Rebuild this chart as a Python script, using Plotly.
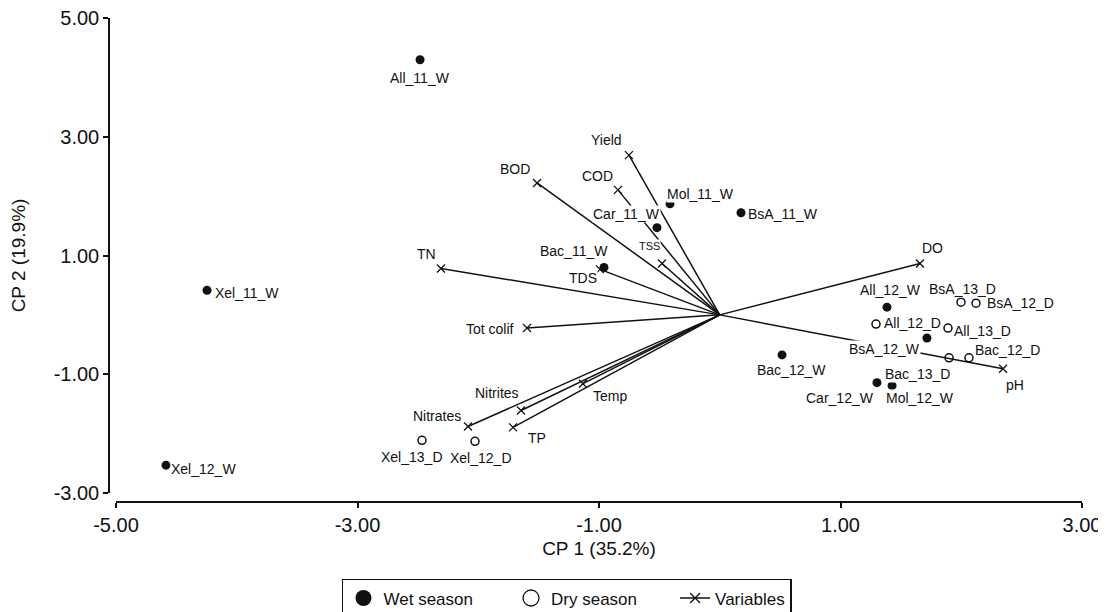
import plotly.graph_objects as go

# ---------------- data ----------------
wet_names = ["All_11_W", "Xel_11_W", "Xel_12_W", "Mol_11_W", "BsA_11_W", "Car_11_W",
             "Bac_11_W", "All_12_W", "BsA_12_W", "Bac_12_W", "Car_12_W", "Mol_12_W"]
wet_x = [-2.482, -4.246, -4.586, -0.412, 0.176, -0.520, -0.959, 1.385, 1.716, 0.516, 1.302, 1.427]
wet_y = [4.297, 0.414, -2.531, 1.870, 1.720, 1.469, 0.799, 0.130, -0.389, -0.674, -1.142, -1.192]

dry_names = ["BsA_13_D", "BsA_12_D", "All_12_D", "All_13_D", "Bac_13_D", "Bac_12_D",
             "Xel_13_D", "Xel_12_D"]
dry_x = [1.998, 2.122, 1.294, 1.890, 1.899, 2.064, -2.466, -2.027]
dry_y = [0.213, 0.197, -0.155, -0.222, -0.724, -0.724, -2.113, -2.130]

var_names = ["Yield", "BOD", "COD", "TSS", "TDS", "TN", "Tot colif", "DO", "pH",
             "Nitrates", "Nitrites", "TP", "Temp"]
var_x = [-0.752, -1.513, -0.843, -0.478, -0.992, -2.309, -1.596, 1.658, 2.346,
         -2.085, -1.646, -1.712, -1.133]
var_y = [2.690, 2.222, 2.105, 0.866, 0.766, 0.782, -0.222, 0.866, -0.908,
         -1.879, -1.611, -1.895, -1.159]

x_ticks = [-5, -3, -1, 1, 3]
y_ticks = [-3, -1, 1, 3, 5]
x_tick_labels = ["-5.00", "-3.00", "-1.00", "1.00", "3.00"]
y_tick_labels = ["-3.00", "-1.00", "1.00", "3.00", "5.00"]
x_title = "CP 1 (35.2%)"
y_title = "CP 2 (19.9%)"
legend_names = ["Wet season", "Dry season", "Variables"]

# ---------------- label styling (pixel offsets of label centre from the mark) ----------------
wet_off = [(0, 18), (40, 3), (38, 4), (30, -10), (42, 1), (-30, -14), (-30, -16),
           (4, -17), (-42, 11), (9, 15), (-37, 15), (28, 12)]
dry_off = [(1, -13), (45, 0), (36, -1), (35, 3), (-32, 16), (39, -8), (-10, 17), (6, 17)]
var_off = [(-22, -15), (-22, -14), (-20, -14), (-13, -17), (-17, 9), (-14, -14), (-37, 1),
           (13, -15), (12, 16), (-31, -10), (-24, -18), (24, 11), (27, 12)]
var_fs = [14, 14, 14, 11, 14, 14, 14, 14, 14, 14, 14, 14, 14]
legend_pad = ["\u00a0" * 7, "\u00a0" * 7, ""]

FONT = "Arial, Liberation Sans, Helvetica, sans-serif"
INK = "#111111"

fig = go.Figure()

# variable vectors from origin
seg_x, seg_y = [], []
for vx, vy in zip(var_x, var_y):
    seg_x += [0, vx, None]
    seg_y += [0, vy, None]
fig.add_trace(go.Scatter(x=seg_x, y=seg_y, mode="lines",
                         line=dict(color=INK, width=1.5), showlegend=False, hoverinfo="skip"))
fig.add_trace(go.Scatter(x=var_x, y=var_y, mode="markers", text=var_names,
                         marker=dict(symbol="x-thin", size=8, line=dict(color=INK, width=1.3)),
                         showlegend=False))

fig.add_trace(go.Scatter(x=wet_x, y=wet_y, mode="markers", text=wet_names,
                         marker=dict(symbol="circle", size=9, color=INK), showlegend=False))
fig.add_trace(go.Scatter(x=dry_x, y=dry_y, mode="markers", text=dry_names,
                         marker=dict(symbol="circle-open", size=8, color=INK, line=dict(width=1.5)),
                         showlegend=False))

# legend entries
fig.add_trace(go.Scatter(x=[None], y=[None], mode="markers", name=legend_names[0] + legend_pad[0],
                         marker=dict(symbol="circle", size=16, color=INK)))
fig.add_trace(go.Scatter(x=[None], y=[None], mode="markers", name=legend_names[1] + legend_pad[1],
                         marker=dict(symbol="circle-open", size=16, color=INK, line=dict(width=1.3))))
fig.add_trace(go.Scatter(x=[None], y=[None], mode="lines+markers", name=legend_names[2] + legend_pad[2],
                         line=dict(color=INK, width=1.3),
                         marker=dict(symbol="x-thin", size=10, line=dict(color=INK, width=1.3))))

annotations = []
def add_labels(names, xs, ys, offs, sizes):
    for n, x, y, (dx, dy), fs in zip(names, xs, ys, offs, sizes):
        annotations.append(dict(x=x, y=y, xref="x", yref="y", text=n, showarrow=False,
                                xanchor="center", yanchor="middle", xshift=dx, yshift=-dy,
                                bgcolor="white", borderpad=0,
                                font=dict(family=FONT, size=fs, color=INK)))

add_labels(wet_names, wet_x, wet_y, wet_off, [14] * len(wet_names))
add_labels(dry_names, dry_x, dry_y, dry_off, [14] * len(dry_names))
add_labels(var_names, var_x, var_y, var_off, var_fs)

axis_common = dict(showgrid=False, zeroline=False, showline=True, linecolor=INK, linewidth=1.5,
                   ticks="outside", ticklen=5, tickwidth=1.5, tickcolor=INK,
                   tickfont=dict(family=FONT, size=20, color=INK), ticklabeloverflow="allow",
                   anchor="free", position=0)

fig.update_layout(
    width=1106, height=612,
    margin=dict(l=101, r=32, t=10, b=118, autoexpand=False),
    paper_bgcolor="white", plot_bgcolor="white",
    font=dict(family=FONT, color=INK),
    xaxis=dict(range=[-5, 3], domain=[0.0072, 1], tickvals=x_ticks, ticktext=x_tick_labels,
               title=dict(text=x_title, font=dict(family=FONT, size=19, color=INK), standoff=6),
               **axis_common),
    yaxis=dict(range=[-3, 5], domain=[0.0186, 1], tickvals=y_ticks, ticktext=y_tick_labels,
               title=dict(text=y_title, font=dict(family=FONT, size=19, color=INK), standoff=22),
               **axis_common),
    legend=dict(orientation="h", x=0.4707, xanchor="center", y=-0.159, yanchor="top",
                bordercolor=INK, borderwidth=1.5, bgcolor="white",
                font=dict(family=FONT, size=17, color=INK), itemwidth=30, tracegroupgap=0),
    annotations=annotations,
    showlegend=True,
)

fig.write_html("out.html")
